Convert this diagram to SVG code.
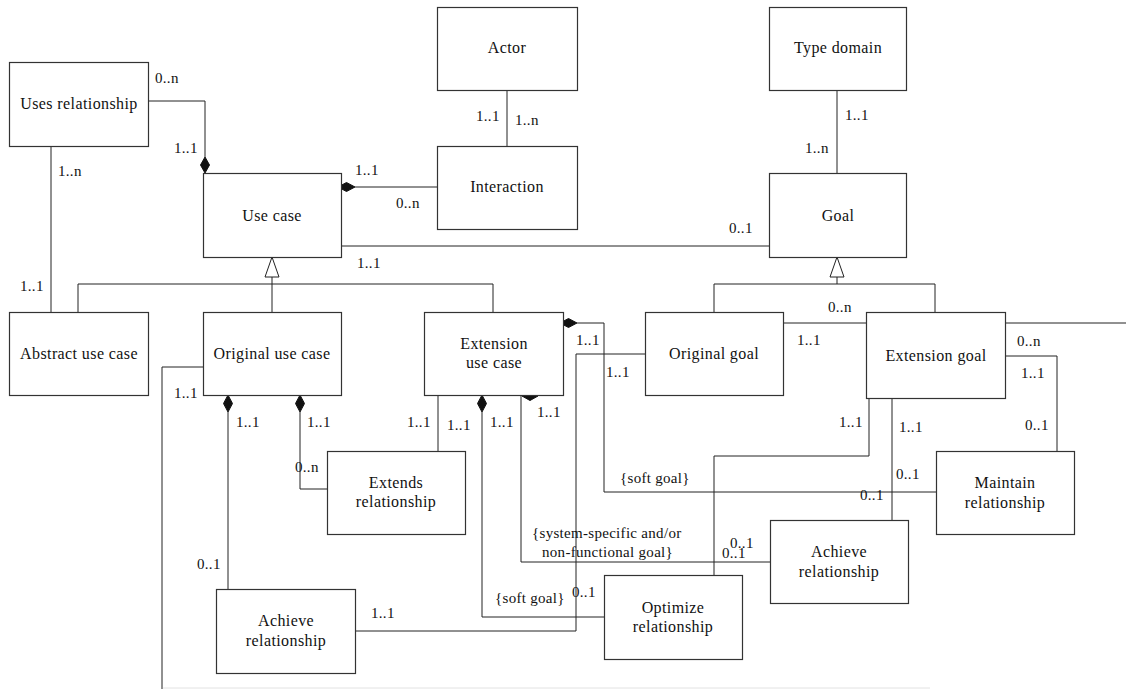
<svg xmlns="http://www.w3.org/2000/svg" width="1126" height="689" viewBox="0 0 1126 689">
<style>
.box{fill:#fff;stroke:#333;stroke-width:1.2}
.t{font-family:"Liberation Serif","Times New Roman",serif;font-size:16px;letter-spacing:0.4px;fill:#111;text-anchor:middle}
.l{font-family:"Liberation Serif","Times New Roman",serif;font-size:15px;letter-spacing:0.3px;fill:#111}
.c{fill:none;stroke:#222;stroke-width:1}
.d{fill:#111;stroke:#111;stroke-width:1}
.g{fill:#fff;stroke:#222;stroke-width:1}
</style>
<rect width="1126" height="689" fill="#fff"/>
<g id="connectors">
  <polyline class="c" points="148,101 205,101 205,157"/>
  <polygon class="d" points="205,157 209.5,165 205,173 200.5,165"/>
  <line class="c" x1="51" y1="146" x2="51" y2="312"/>
  <line class="c" x1="437" y1="187" x2="355" y2="187"/>
  <polygon class="d" points="338,187 346.5,182.5 355,187 346.5,191.5"/>
  <line class="c" x1="507" y1="90" x2="507" y2="146"/>
  <line class="c" x1="837" y1="90" x2="837" y2="173"/>
  <line class="c" x1="341" y1="246" x2="769" y2="246"/>
  <line class="c" x1="272" y1="277" x2="272" y2="312"/>
  <polyline class="c" points="78,312 78,284 493,284 493,312"/>
  <polygon class="g" points="272,257 265,277 279,277"/>
  <line class="c" x1="837" y1="277" x2="837" y2="284"/>
  <polyline class="c" points="714,312 714,284 935,284 935,312"/>
  <polygon class="g" points="837,257 830,277 844,277"/>
  <line class="c" x1="780" y1="323" x2="869" y2="323"/>
  <line class="c" x1="1002" y1="323" x2="1126" y2="323"/>
  <polyline class="c" points="1005,356 1057,356 1057,451"/>
  <line class="c" x1="892" y1="399" x2="892" y2="523"/>
  <polyline class="c" points="869,395 869,456 714,456 714,578"/>
  <polygon class="d" points="560,323 568.5,318.5 577,323 568.5,327.5"/>
  <polyline class="c" points="577,323 604,323 604,492 936,492"/>
  <polyline class="c" points="645,354 576,354 576,631 355,631"/>
  <polygon class="d" points="522,396 530,391.5 538,396 530,400.5"/>
  <polyline class="c" points="521,396 521,562 770,562"/>
  <polygon class="d" points="482,395 486.5,403.5 482,412 477.5,403.5"/>
  <polyline class="c" points="482,412 482,617 604,617"/>
  <line class="c" x1="438" y1="395" x2="438" y2="451"/>
  <polygon class="d" points="300,395 304.5,403.5 300,412 295.5,403.5"/>
  <polyline class="c" points="300,412 300,489 327,489"/>
  <polygon class="d" points="228,395 232.5,403.5 228,412 223.5,403.5"/>
  <line class="c" x1="228" y1="412" x2="228" y2="589"/>
  <polyline class="c" points="207,367 162,367 162,689"/>
  <line x1="163" y1="688" x2="930" y2="688" stroke="#e2e2e2" stroke-width="1"/>
</g>
<g id="labels">
  <text class="l" x="155" y="83">0..n</text>
  <text class="l" x="174" y="153">1..1</text>
  <text class="l" x="58" y="176">1..n</text>
  <text class="l" x="20" y="291">1..1</text>
  <text class="l" x="355" y="175">1..1</text>
  <text class="l" x="396" y="208">0..n</text>
  <text class="l" x="476" y="121">1..1</text>
  <text class="l" x="515" y="125">1..n</text>
  <text class="l" x="845" y="120">1..1</text>
  <text class="l" x="805" y="153">1..n</text>
  <text class="l" x="729" y="233">0..1</text>
  <text class="l" x="357" y="268">1..1</text>
  <text class="l" x="828" y="312">0..n</text>
  <text class="l" x="797" y="345">1..1</text>
  <text class="l" x="576" y="345">1..1</text>
  <text class="l" x="606" y="377">1..1</text>
  <text class="l" x="1017" y="346">0..n</text>
  <text class="l" x="1021" y="378">1..1</text>
  <text class="l" x="1025" y="430">0..1</text>
  <text class="l" x="899" y="432">1..1</text>
  <text class="l" x="839" y="427">1..1</text>
  <text class="l" x="896" y="479">0..1</text>
  <text class="l" x="860" y="500">0..1</text>
  <text class="l" x="620" y="483">{soft goal}</text>
  <text class="l" x="532" y="538">{system-specific and/or</text>
  <text class="l" x="542" y="557">non-functional goal}</text>
  <text class="l" x="730" y="548">0..1</text>
  <text class="l" x="722" y="558">0..1</text>
  <text class="l" x="537" y="417">1..1</text>
  <text class="l" x="490" y="427">1..1</text>
  <text class="l" x="407" y="427">1..1</text>
  <text class="l" x="447" y="430">1..1</text>
  <text class="l" x="495" y="603">{soft goal}</text>
  <text class="l" x="572" y="597">0..1</text>
  <text class="l" x="307" y="427">1..1</text>
  <text class="l" x="295" y="472">0..n</text>
  <text class="l" x="236" y="427">1..1</text>
  <text class="l" x="197" y="569">0..1</text>
  <text class="l" x="371" y="618">1..1</text>
  <text class="l" x="174" y="398">1..1</text>
</g>
<g id="uses-relationship"><rect class="box" x="9.5" y="62.5" width="139" height="84"/><text class="t" x="79" y="109">Uses relationship</text></g>
<g id="use-case"><rect class="box" x="203.5" y="173.5" width="138" height="84"/><text class="t" x="272" y="221">Use case</text></g>
<g id="actor"><rect class="box" x="437.5" y="7.5" width="140" height="83"/><text class="t" x="507" y="53">Actor</text></g>
<g id="interaction"><rect class="box" x="437.5" y="146.5" width="140" height="83"/><text class="t" x="507" y="192">Interaction</text></g>
<g id="type-domain"><rect class="box" x="769.5" y="7.5" width="137" height="83"/><text class="t" x="838" y="53">Type domain</text></g>
<g id="goal"><rect class="box" x="769.5" y="173.5" width="137" height="84"/><text class="t" x="838" y="221">Goal</text></g>
<g id="abstract-use-case"><rect class="box" x="9.5" y="312.5" width="139" height="83"/><text class="t" x="79" y="359">Abstract use case</text></g>
<g id="original-use-case"><rect class="box" x="203.5" y="312.5" width="138" height="83"/><text class="t" x="272" y="359">Original use case</text></g>
<g id="extension-use-case"><rect class="box" x="424.5" y="312.5" width="139" height="83"/><text class="t" x="494" y="349">Extension</text><text class="t" x="494" y="368">use case</text></g>
<g id="original-goal"><rect class="box" x="645.5" y="312.5" width="138" height="83"/><text class="t" x="714" y="359">Original goal</text></g>
<g id="extension-goal"><rect class="box" x="866.5" y="312.5" width="139" height="86"/><text class="t" x="936" y="361">Extension goal</text></g>
<g id="maintain-relationship"><rect class="box" x="936.5" y="451.5" width="138" height="83"/><text class="t" x="1005" y="488">Maintain</text><text class="t" x="1005" y="508">relationship</text></g>
<g id="extends-relationship"><rect class="box" x="327.5" y="451.5" width="138" height="83"/><text class="t" x="396" y="488">Extends</text><text class="t" x="396" y="507">relationship</text></g>
<g id="achieve-relationship-right"><rect class="box" x="770.5" y="520.5" width="138" height="83"/><text class="t" x="839" y="557">Achieve</text><text class="t" x="839" y="577">relationship</text></g>
<g id="optimize-relationship"><rect class="box" x="604.5" y="575.5" width="138" height="84"/><text class="t" x="673" y="613">Optimize</text><text class="t" x="673" y="632">relationship</text></g>
<g id="achieve-relationship-left"><rect class="box" x="216.5" y="589.5" width="139" height="84"/><text class="t" x="286" y="626">Achieve</text><text class="t" x="286" y="646">relationship</text></g>
</svg>
